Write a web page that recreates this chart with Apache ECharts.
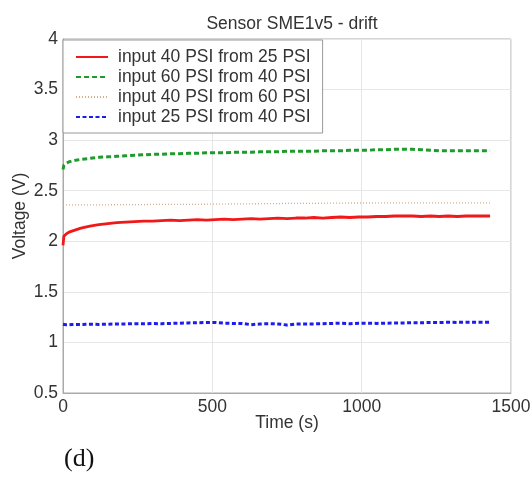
<!DOCTYPE html>
<html>
<head>
<meta charset="utf-8">
<script src="https://cdn.jsdelivr.net/npm/echarts@6/dist/echarts.min.js"></script>
<style>
html,body{margin:0;padding:0;background:#fff;}
#c{width:532px;height:478px;}
</style>
</head>
<body>
<div id="c"></div>
<script>
var times = [0,3,10,20,30,60,90,120,150,180,210,240,270,300,330,360,390,420,450,480,510,540,570,600,630,660,690,720,750,780,810,840,870,900,930,960,990,1020,1050,1080,1110,1140,1170,1200,1230,1260,1290,1320,1350,1380,1410,1430];
var red40from25 = [1.96,2.05,2.07,2.09,2.10,2.13,2.15,2.165,2.175,2.185,2.19,2.195,2.20,2.20,2.205,2.21,2.205,2.21,2.215,2.21,2.215,2.22,2.215,2.22,2.225,2.22,2.225,2.23,2.225,2.23,2.23,2.235,2.23,2.235,2.24,2.235,2.24,2.24,2.245,2.245,2.25,2.25,2.25,2.245,2.25,2.245,2.25,2.245,2.25,2.25,2.25,2.25];
var green60from40 = [2.71,2.75,2.77,2.785,2.795,2.81,2.82,2.83,2.835,2.84,2.845,2.85,2.855,2.86,2.86,2.865,2.865,2.87,2.87,2.875,2.875,2.875,2.88,2.88,2.88,2.885,2.885,2.885,2.89,2.89,2.89,2.89,2.895,2.895,2.895,2.9,2.9,2.9,2.905,2.905,2.91,2.91,2.91,2.905,2.9,2.895,2.895,2.895,2.895,2.895,2.895,2.895];
var brown40from60 = [2.36,2.36,2.36,2.36,2.36,2.36,2.36,2.36,2.36,2.362,2.362,2.362,2.362,2.365,2.365,2.365,2.365,2.365,2.365,2.367,2.367,2.367,2.37,2.37,2.37,2.372,2.372,2.372,2.375,2.375,2.375,2.375,2.377,2.377,2.377,2.378,2.378,2.378,2.38,2.38,2.38,2.38,2.38,2.38,2.38,2.38,2.38,2.38,2.38,2.38,2.38,2.38];
var blue25from40 = [1.18,1.18,1.175,1.175,1.178,1.178,1.18,1.178,1.18,1.182,1.183,1.185,1.185,1.187,1.185,1.188,1.19,1.193,1.195,1.197,1.197,1.19,1.188,1.188,1.175,1.183,1.185,1.183,1.172,1.182,1.183,1.183,1.185,1.188,1.19,1.185,1.19,1.19,1.188,1.19,1.192,1.193,1.195,1.195,1.197,1.196,1.2,1.198,1.2,1.2,1.2,1.2];
var seriesNames = ['input 40 PSI from 25 PSI','input 60 PSI from 40 PSI','input 40 PSI from 60 PSI','input 25 PSI from 40 PSI'];
var xTicks = {min:0,max:1500,interval:500};
var yTicks = {min:0.5,max:4,interval:0.5};

function pairs(v){ return times.map(function(t,i){ return [t, v[i]]; }); }

var font = 'Liberation Sans, Arial, sans-serif';
var fs = 17.5;
var chart = echarts.init(document.getElementById('c'), null, {renderer:'canvas'});
chart.setOption({
  animation:false,
  backgroundColor:'#fff',
  title:{text:'Sensor SME1v5 - drift', left:287, top:10, textAlign:'center',
    textStyle:{fontFamily:font,fontSize:17.5,fontWeight:'normal',color:'#333'}},
  grid:{left:63,right:21,top:39,bottom:85,show:true,borderColor:'#aaa',borderWidth:1,outerBoundsMode:'none',containLabel:false},
  legend:{orient:'vertical',left:63,top:40,padding:[7,12,6,12],itemGap:0,itemWidth:32,itemHeight:14,
    borderColor:'#999',borderWidth:1,backgroundColor:'#fff',
    itemStyle:{opacity:0,borderWidth:0},
    textStyle:{fontFamily:font,fontSize:fs,color:'#333',lineHeight:20,padding:[0,0,0,5]},
    data:seriesNames},
  xAxis:{type:'value',min:xTicks.min,max:xTicks.max,interval:xTicks.interval,
    name:'Time (s)',nameLocation:'middle',nameGap:21,nameMoveOverlap:false,
    nameTextStyle:{fontFamily:font,fontSize:fs,color:'#333'},
    axisLine:{lineStyle:{color:'#aaa'}},axisTick:{show:false},
    axisLabel:{fontFamily:font,fontSize:fs,color:'#333',margin:5,formatter:function(v){return String(v);}},
    splitLine:{lineStyle:{color:'#e6e6e6'}}},
  yAxis:{type:'value',min:yTicks.min,max:yTicks.max,interval:yTicks.interval,
    name:'Voltage (V)',nameLocation:'middle',nameGap:34,nameMoveOverlap:false,
    nameTextStyle:{fontFamily:font,fontSize:fs,color:'#333'},
    axisLine:{show:true,lineStyle:{color:'#aaa'}},axisTick:{show:false},
    axisLabel:{fontFamily:font,fontSize:fs,color:'#333',margin:5},
    splitLine:{lineStyle:{color:'#e6e6e6'}}},
  series:[
    {name:seriesNames[0],type:'line',symbol:'none',data:pairs(red40from25),
      lineStyle:{color:'#f01818',width:2.8,type:'solid'},itemStyle:{color:'#f01818'},z:4},
    {name:seriesNames[1],type:'line',symbol:'none',data:pairs(green60from40),
      lineStyle:{color:'#1f9a2c',width:3,type:[5,3]},itemStyle:{color:'#1f9a2c'},z:3},
    {name:seriesNames[2],type:'line',symbol:'none',data:pairs(brown40from60),
      lineStyle:{color:'#d6ad8a',width:1.4,type:[1,2]},itemStyle:{color:'#d6ad8a'},z:2},
    {name:seriesNames[3],type:'line',symbol:'none',data:pairs(blue25from40),
      lineStyle:{color:'#1c1cf0',width:3,type:[4,2.5]},itemStyle:{color:'#1c1cf0'},z:3}
  ],
  graphic:[{type:'text',left:64,top:446,style:{text:'(d)',font:'26px "Liberation Serif", "Times New Roman", serif',fill:'#111'}}]
});
</script>
</body>
</html>
